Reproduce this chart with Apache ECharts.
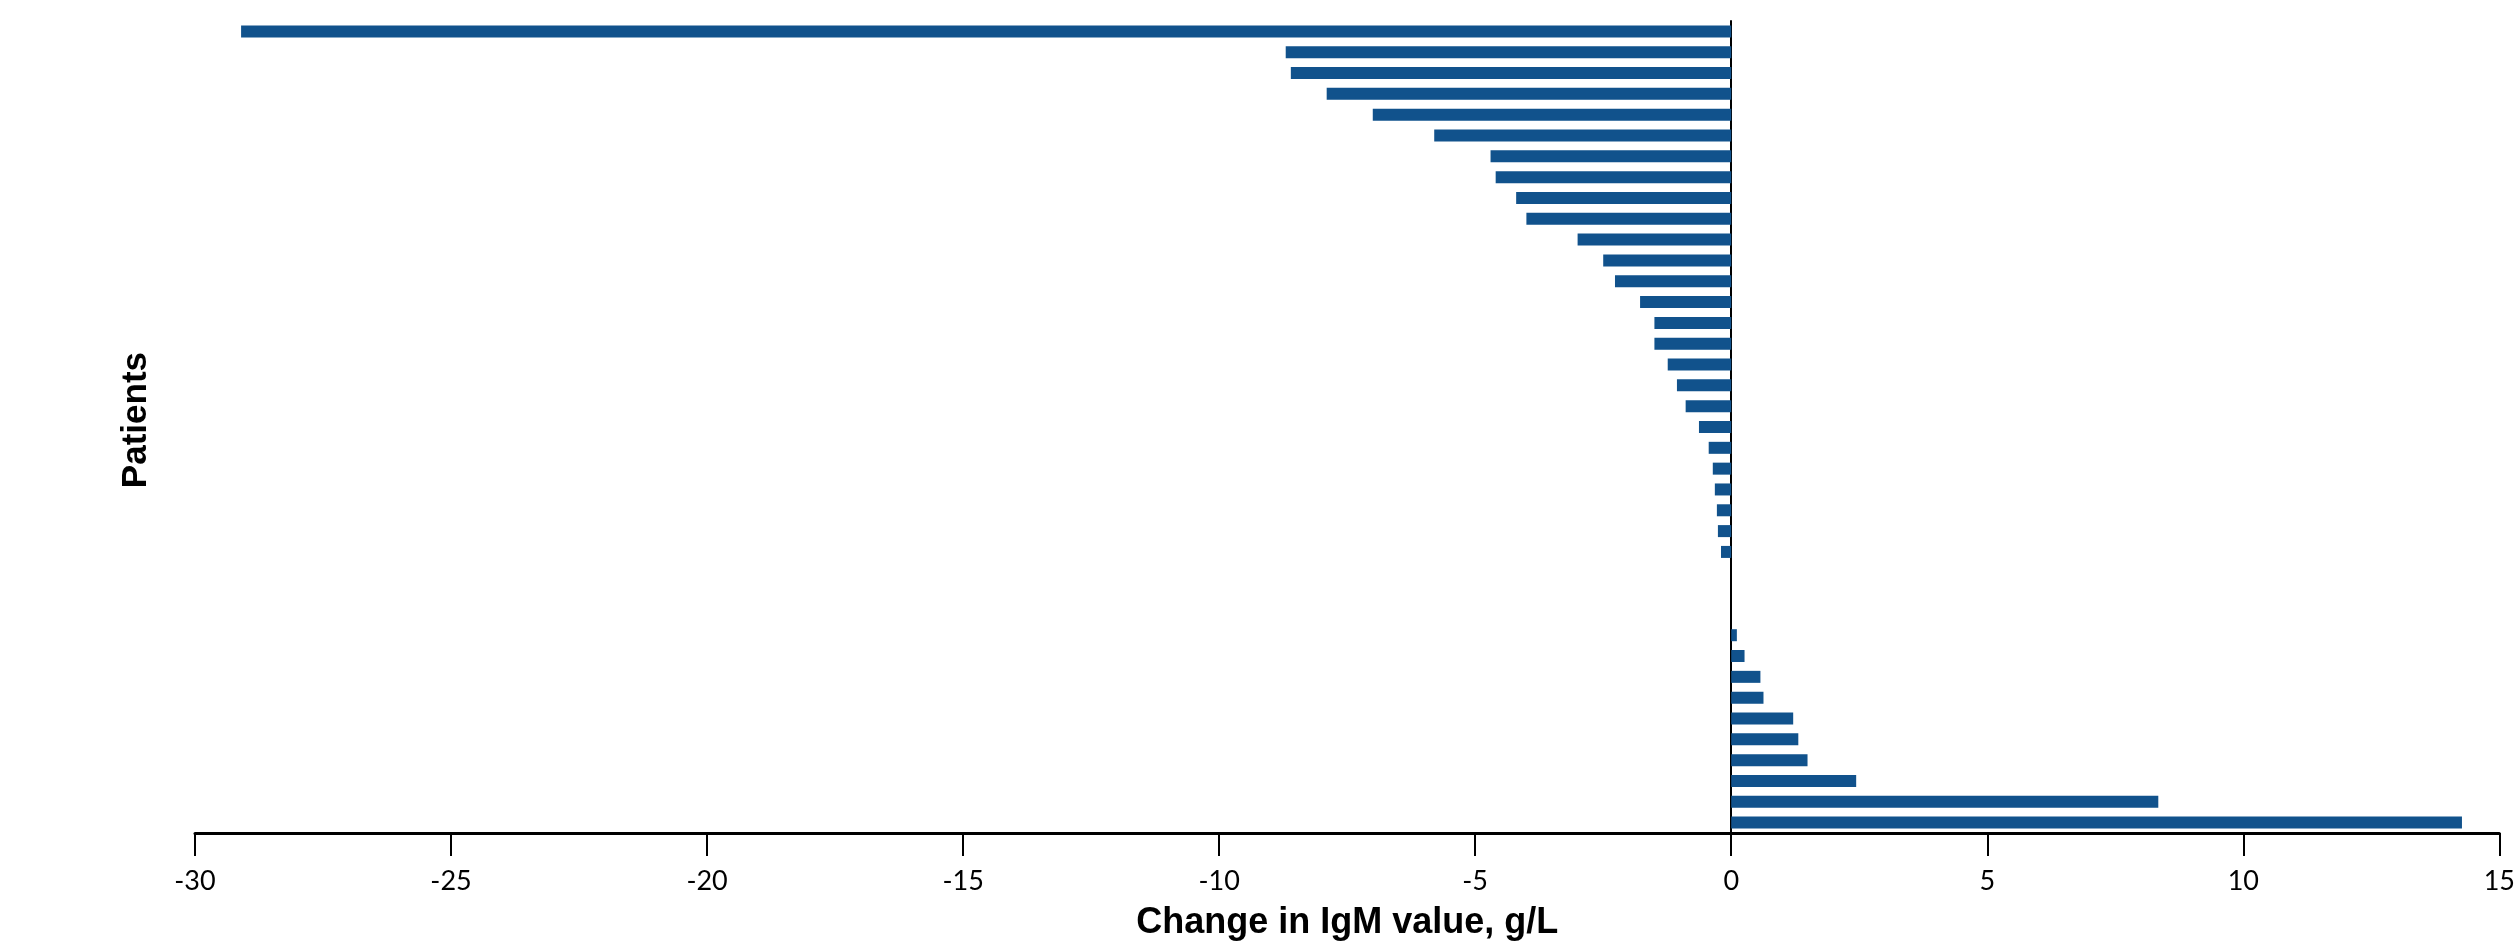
<!DOCTYPE html>
<html>
<head>
<meta charset="utf-8">
<title>Change in IgM value</title>
<script src="https://cdn.jsdelivr.net/npm/echarts@6/dist/echarts.min.js"></script>
<style>
  html, body { margin: 0; padding: 0; background: #fff; }
  #chart { width: 2518px; height: 946px; }
</style>
</head>
<body>
<div id="chart"></div>
<script>
// one bar per patient, top to bottom
const patients = [
  "1", "2", "3", "4", "5", "6", "7", "8", "9", "10",
  "11", "12", "13", "14", "15", "16", "17", "18", "19", "20",
  "21", "22", "23", "24", "25", "26", "27", "28", "29", "30",
  "31", "32", "33", "34", "35", "36", "37", "38", "39"
];
// change in IgM, g/L
const igmChange = [
  -29.1, -8.7, -8.6, -7.9, -7.0, -5.8, -4.7, -4.6, -4.2, -4.0,
  -3.0, -2.5, -2.27, -1.78, -1.5, -1.5, -1.24, -1.06, -0.89, -0.63,
  -0.44, -0.36, -0.32, -0.28, -0.26, -0.2, 0, 0, 0, 0.11,
  0.26, 0.57, 0.63, 1.21, 1.31, 1.49, 2.44, 8.34, 14.27
];
const xTicks = { min: -30, max: 15, step: 5 };

const chart = echarts.init(document.getElementById("chart"));

chart.setOption({
  animation: false,
  grid: { left: 195, right: 10, top: 21, bottom: 104, containLabel: false },
  xAxis: {
    type: "value",
    min: xTicks.min,
    max: xTicks.max,
    interval: xTicks.step,
    splitLine: { show: false },
    axisLine: { show: true, lineStyle: { color: "#000", width: 3 } },
    axisTick: { show: true, length: 23, lineStyle: { color: "#000", width: 2 } },
    axisLabel: { color: "#000", fontSize: 27, fontFamily: "Lato", margin: 35 },
    name: "Change in IgM value, g/L",
    nameLocation: "middle",
    nameGap: 72,
    nameTextStyle: { color: "#000", fontSize: 36, fontWeight: "bold", fontFamily: "Liberation Sans" }
  },
  yAxis: {
    type: "category",
    data: patients,
    inverse: true,
    axisLine: { show: true, onZero: true, lineStyle: { color: "#000", width: 2 } },
    axisTick: { show: false },
    axisLabel: { show: false },
    splitLine: { show: false }
  },
  graphic: [{
    type: "text",
    left: 119,
    top: 352,
    rotation: Math.PI / 2,
    style: {
      text: "Patients",
      fill: "#000",
      font: "bold 35px 'Liberation Sans'"
    }
  }],
  series: [{
    type: "bar",
    data: igmChange,
    barWidth: 12,
    itemStyle: { color: "#11528c" }
  }]
});
</script>
</body>
</html>
